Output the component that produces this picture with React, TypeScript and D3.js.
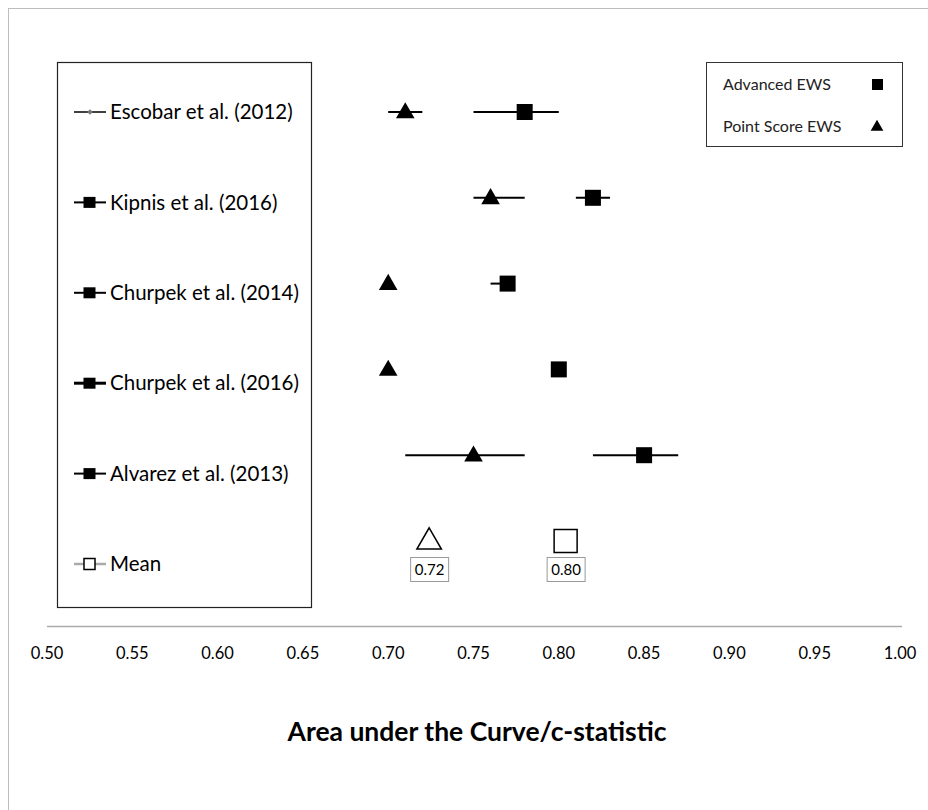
import React from 'react'
import * as d3 from 'd3'

const studies = ['Escobar et al. (2012)', 'Kipnis et al. (2016)', 'Churpek et al. (2014)', 'Churpek et al. (2016)', 'Alvarez et al. (2013)']
// Advanced EWS (square): estimate, lower, upper
const advanced = [0.78, 0.82, 0.77, 0.80, 0.85]
const advancedLow = [0.75, 0.81, 0.76, 0.80, 0.82]
const advancedHigh = [0.80, 0.83, 0.77, 0.80, 0.87]
// Point score EWS (triangle)
const pointScore = [0.71, 0.76, 0.70, 0.70, 0.75]
const pointLow = [0.70, 0.75, 0.70, 0.70, 0.71]
const pointHigh = [0.72, 0.78, 0.70, 0.70, 0.78]
const meanPoint = 0.724
const meanAdvanced = 0.804
const ticks = [0.5, 0.55, 0.6, 0.65, 0.7, 0.75, 0.8, 0.85, 0.9, 0.95, 1.0]

const font = 'Lato, "Open Sans", sans-serif'

const App = () => {
  const width = 928
  const height = 810
  const x = d3.scaleLinear().domain([0.5, 1.0]).range([47, 900])
  const rows = [...studies, 'Mean']
  const y = d3.scalePoint().domain(rows).range([112, 541])
  const ly = d3.scalePoint().domain(rows).range([112, 564])
  const fmt = d3.format('.2f')

  const tri = d3.symbol().type(d3.symbolTriangle).size(150)
  const triBig = d3.symbol().type(d3.symbolTriangle).size(260)

  return (
    <svg width={width} height={height} style={{ position: 'absolute', left: 0, top: 0, background: '#fff' }}>
      <rect x={8.5} y={8.5} width={width + 20} height={height + 20} fill="none" stroke="#bdbdbd" strokeWidth={1} />

      {/* study legend box */}
      <rect x={57.5} y={62.5} width={254} height={545} fill="none" stroke="#222" strokeWidth={1.2} />
      {rows.map((name, i) => {
        const cy = ly(name) as number
        const isMean = name === 'Mean'
        const isFirst = i === 0
        return (
          <g key={name}>
            <line x1={74} x2={106} y1={cy} y2={cy}
              stroke={isMean ? '#aaa' : '#000'}
              strokeWidth={isFirst ? 1.5 : isMean ? 2.5 : i === 3 ? 3 : 2} />
            {isFirst ? (
              <rect x={88} y={cy - 2} width={4} height={4} fill="#777" transform={`rotate(45 90 ${cy})`} />
            ) : isMean ? (
              <rect x={84} y={cy - 5.5} width={11} height={11} fill="#fff" stroke="#000" strokeWidth={1.5} />
            ) : (
              <rect x={83.5} y={cy - 5.5} width={12} height={11} fill="#000" />
            )}
            <text x={110} y={cy} dy="0.35em" fontFamily={font} fontSize={20.5} fill="#000">{name}</text>
          </g>
        )
      })}

      {/* series legend */}
      <rect x={706.5} y={62.5} width={196} height={84} fill="none" stroke="#333" strokeWidth={1} />
      <text x={723} y={84} dy="0.35em" fontFamily={font} fontSize={16} fill="#222">Advanced EWS</text>
      <rect x={872} y={79} width={11} height={11} fill="#000" />
      <text x={723} y={126} dy="0.35em" fontFamily={font} fontSize={16} fill="#222">Point Score EWS</text>
      <path d={d3.symbol().type(d3.symbolTriangle).size(70)() as string} transform="translate(877,127)" fill="#000" />

      {/* confidence intervals and estimates */}
      {studies.map((s, i) => {
        const cy = y(s) as number
        return (
          <g key={s}>
            {pointHigh[i] > pointLow[i] && (
              <line x1={x(pointLow[i])} x2={x(pointHigh[i])} y1={cy} y2={cy} stroke="#000" strokeWidth={2} />
            )}
            {advancedHigh[i] > advancedLow[i] && (
              <line x1={x(advancedLow[i])} x2={x(advancedHigh[i])} y1={cy} y2={cy} stroke="#000" strokeWidth={2} />
            )}
            <path d={tri() as string} transform={`translate(${x(pointScore[i])},${cy + 1})`} fill="#000" />
            <rect x={x(advanced[i]) - 8} y={cy - 8} width={16} height={16} fill="#000" />
          </g>
        )
      })}

      {/* means */}
      {(() => {
        const cy = y('Mean') as number
        return (
          <g>
            <path d={triBig() as string} transform={`translate(${x(meanPoint)},${cy + 1})`} fill="#fff" stroke="#000" strokeWidth={1.5} />
            <rect x={x(meanAdvanced) - 11.5} y={cy - 11.5} width={23} height={23} fill="#fff" stroke="#000" strokeWidth={1.5} />
            {[meanPoint, meanAdvanced].map(v => (
              <g key={v}>
                <rect x={x(v) - 18.5} y={557.5} width={38} height={24} fill="#fff" stroke="#999" strokeWidth={1} />
                <text x={x(v) + 0.5} y={570} dy="0.35em" textAnchor="middle" fontFamily={font} fontSize={15} fill="#000">{fmt(v)}</text>
              </g>
            ))}
          </g>
        )
      })()}

      {/* x axis */}
      <line x1={x(0.5)} x2={x(1.0) + 2} y1={626.5} y2={626.5} stroke="#aaa" strokeWidth={1.5} />
      {ticks.map(t => (
        <text key={t} x={x(t)} y={653} dy="0.35em" textAnchor="middle" fontFamily={font} fontSize={16.5} fill="#000">{fmt(t)}</text>
      ))}
      <text x={477} y={732} dy="0.35em" textAnchor="middle" fontFamily={font} fontWeight="bold" fontSize={26.5} fill="#000">Area under the Curve/c-statistic</text>
    </svg>
  )
}

export default App
